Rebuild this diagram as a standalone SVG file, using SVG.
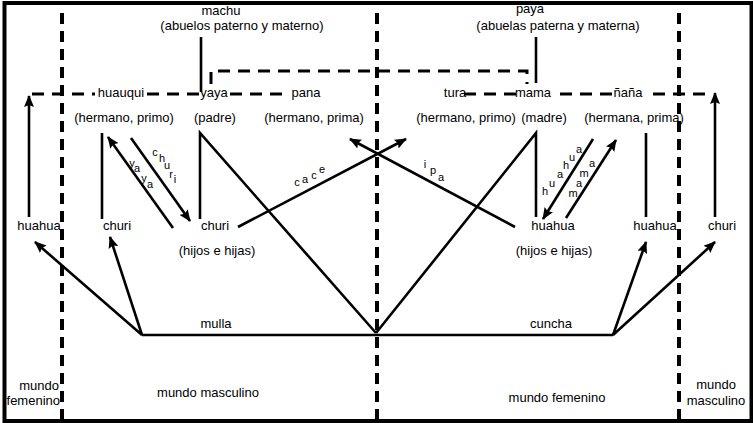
<svg xmlns="http://www.w3.org/2000/svg" width="753" height="423" viewBox="0 0 753 423">
<style>
text{font-family:"Liberation Sans",Arial,sans-serif;fill:#000}
.t{font-size:13px;text-anchor:middle}
.s{font-size:11px;text-anchor:middle}
.ln{stroke:#000;stroke-width:2.6;fill:none;stroke-linecap:butt}
.ar{stroke:#000;stroke-width:2.6;fill:none;marker-end:url(#ah)}
.dv{stroke:#000;stroke-width:4;fill:none;stroke-dasharray:11 7}
.dh{stroke:#000;stroke-width:3;fill:none;stroke-dasharray:12 8}
</style>
<defs>
<marker id="ah" markerUnits="userSpaceOnUse" markerWidth="12" markerHeight="10" refX="11" refY="5" orient="auto">
<path d="M0,0 L12,5 L0,10 L2,5 z" fill="#000"/>
</marker>
</defs>
<rect x="0" y="0" width="753" height="423" fill="#fff"/>

<g id="dividers">
<line class="dv" x1="62" y1="13" x2="62" y2="420"/>
<line class="dv" x1="377" y1="13" x2="377" y2="420"/>
<line class="dv" x1="679" y1="13" x2="679" y2="420"/>
</g>

<g id="connectors">
<line class="dh" x1="32" y1="94" x2="95" y2="94"/>
<line class="dh" x1="147" y1="94" x2="200" y2="94"/>
<line class="dh" x1="230" y1="94" x2="290" y2="94"/>
<line class="dh" x1="464" y1="94" x2="518" y2="94"/>
<line class="dh" x1="560" y1="94" x2="614" y2="94"/>
<line class="dh" x1="653" y1="94" x2="706" y2="94"/>
<path class="dh" d="M211,84 V71 H527 V84"/>
<line class="ln" x1="201" y1="37" x2="201" y2="92"/>
<line class="ln" x1="536" y1="37" x2="536" y2="83"/>
<line class="ar" x1="29" y1="217" x2="29" y2="96"/>
<line class="ln" x1="102" y1="133" x2="102" y2="219"/>
<line class="ar" x1="173" y1="228" x2="108" y2="137"/>
<line class="ar" x1="131" y1="138" x2="190" y2="221"/>
<path class="ln" d="M200,219 V133 L376,333"/>
<line class="ar" x1="238" y1="227" x2="406" y2="139"/>
<line class="ar" x1="515" y1="227" x2="350" y2="139"/>
<path class="ln" d="M536,217 V133 L376,333"/>
<line class="ar" x1="593" y1="139" x2="543" y2="219"/>
<line class="ar" x1="566" y1="218" x2="616" y2="140"/>
<line class="ln" x1="646" y1="133" x2="646" y2="217"/>
<line class="ar" x1="715" y1="217" x2="715" y2="93"/>
<line class="ln" x1="142" y1="335" x2="613" y2="335"/>
<line class="ar" x1="142" y1="335" x2="35" y2="242"/>
<line class="ar" x1="142" y1="335" x2="110" y2="237"/>
<line class="ar" x1="613" y1="335" x2="646" y2="242"/>
<line class="ar" x1="613" y1="335" x2="715" y2="242"/>
</g>

<g id="machu"><text class="t" x="221" y="15">machu</text><text class="t" x="242" y="30">(abuelos paterno y materno)</text></g>
<g id="paya"><text class="t" x="530" y="13">paya</text><text class="t" x="558" y="30">(abuelas paterna y materna)</text></g>

<g id="huauqui"><text class="t" x="121" y="97">huauqui</text><text class="t" x="124" y="122">(hermano, primo)</text></g>
<g id="yaya"><text class="t" x="214" y="97">yaya</text><text class="t" x="215" y="122">(padre)</text></g>
<g id="pana"><text class="t" x="306" y="97">pana</text><text class="t" x="314" y="122">(hermano, prima)</text></g>
<g id="tura"><text class="t" x="455" y="97">tura</text><text class="t" x="466" y="122">(hermano, primo)</text></g>
<g id="mama"><text class="t" x="533" y="97">mama</text><text class="t" x="544" y="122">(madre)</text></g>
<g id="nana"><text class="t" x="628" y="97">ñaña</text><text class="t" x="634" y="122">(hermana, prima)</text></g>

<g id="huahua-l"><text class="t" x="39" y="230">huahua</text></g>
<g id="churi-l"><text class="t" x="117" y="230">churi</text></g>
<g id="churi-c"><text class="t" x="215" y="230">churi</text><text class="t" x="217" y="255">(hijos e hijas)</text></g>
<g id="huahua-c"><text class="t" x="553" y="230">huahua</text><text class="t" x="554" y="255">(hijos e hijas)</text></g>
<g id="huahua-r"><text class="t" x="655" y="230">huahua</text></g>
<g id="churi-r"><text class="t" x="722" y="230">churi</text></g>

<g id="mulla"><text class="t" x="216" y="328">mulla</text></g>
<g id="cuncha"><text class="t" x="551" y="328">cuncha</text></g>

<g id="edge-labels">
<text class="s" x="155" y="156">c</text><text class="s" x="162" y="162">h</text><text class="s" x="167" y="169">u</text><text class="s" x="171" y="178">r</text><text class="s" x="175" y="183">i</text>
<text class="s" x="132" y="167">y</text><text class="s" x="137" y="172">a</text><text class="s" x="144" y="182">y</text><text class="s" x="150" y="188">a</text>
<text class="s" x="297" y="186">c</text><text class="s" x="305" y="183">a</text><text class="s" x="314" y="179">c</text><text class="s" x="322" y="173">e</text>
<text class="s" x="425" y="168">i</text><text class="s" x="433" y="174">p</text><text class="s" x="441" y="181">a</text>
<text class="s" x="545" y="195">h</text><text class="s" x="552" y="187">u</text><text class="s" x="560" y="178">a</text><text class="s" x="566" y="169">h</text><text class="s" x="572" y="161">u</text><text class="s" x="579" y="153">a</text>
<text class="s" x="573" y="197">m</text><text class="s" x="579" y="187">a</text><text class="s" x="584" y="177">m</text><text class="s" x="592" y="167">a</text>
</g>

<g id="worlds">
<text class="t" x="59" y="390" style="text-anchor:end">mundo</text>
<text class="t" x="60" y="405" style="text-anchor:end">femenino</text>
<text class="t" x="208" y="397">mundo masculino</text>
<text class="t" x="557" y="402">mundo femenino</text>
<text class="t" x="716" y="389">mundo</text>
<text class="t" x="716" y="405">masculino</text>
</g>

<rect x="4.5" y="3" width="747" height="418" fill="none" stroke="#000" stroke-width="4"/>
</svg>
